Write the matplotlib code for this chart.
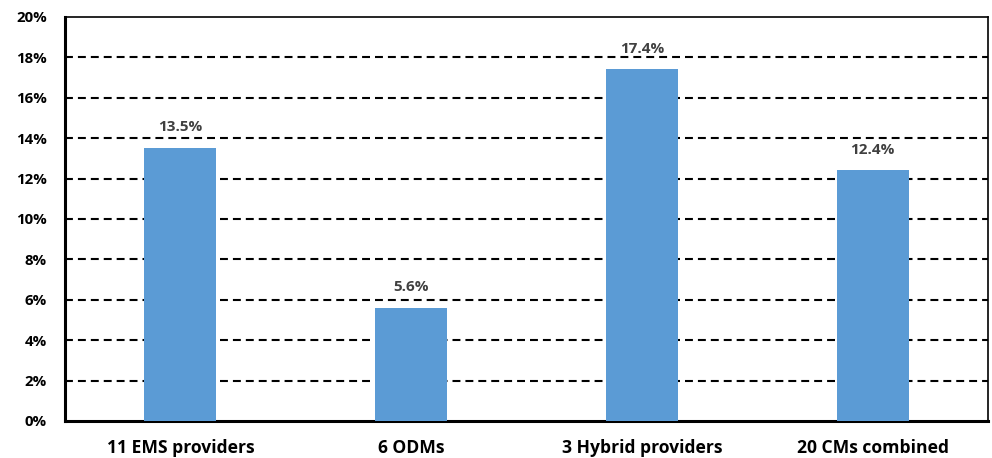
import matplotlib.pyplot as plt
from matplotlib.ticker import FuncFormatter

# données
categories = ["11 EMS providers", "6 ODMs", "3 Hybrid providers", "20 CMs combined"]
values = [13.5, 5.6, 17.4, 12.4]
labels = ["13.5%", "5.6%", "17.4%", "12.4%"]
yticks = [0, 2, 4, 6, 8, 10, 12, 14, 16, 18, 20]

plt.rcParams['font.family'] = ['Open Sans', 'DejaVu Sans']

fig = plt.figure(figsize=(9.92, 4.58), dpi=100)
ax = fig.add_axes([0.0655, 0.0808, 0.9305, 0.8822])

x = list(range(len(categories)))
bars = ax.bar(x, values, width=0.312, color="#5B9BD5", zorder=3)

# étiquettes au-dessus des barres
for xi, v, lab in zip(x, values, labels):
    ax.annotate(lab, (xi, v), xytext=(0, 12.2), textcoords="offset points",
                ha="center", va="baseline", fontsize=11, fontweight="bold",
                color="#404040")

ax.set_xlim(-0.5, len(categories) - 0.5)
ax.set_ylim(0, 20)
ax.set_yticks(yticks)
ax.yaxis.set_major_formatter(FuncFormatter(lambda v, p: f"{int(v)}%"))
ax.set_xticks(x)
ax.set_xticklabels(categories)

for y in yticks[1:-1]:
    ax.axhline(y, color="black", lw=1.5, linestyle=(0, (3.8, 2.4)), zorder=1)

ax.tick_params(axis="y", length=0, pad=13, labelsize=10.8)
ax.tick_params(axis="x", length=0, pad=13, labelsize=12.6)
for t in ax.get_xticklabels() + ax.get_yticklabels():
    t.set_fontweight("bold")

ax.spines["left"].set_linewidth(2.2)
ax.spines["bottom"].set_linewidth(2.2)
ax.spines["top"].set_linewidth(1.2)
ax.spines["right"].set_linewidth(1.2)

plt.savefig("out.png", dpi=100)
